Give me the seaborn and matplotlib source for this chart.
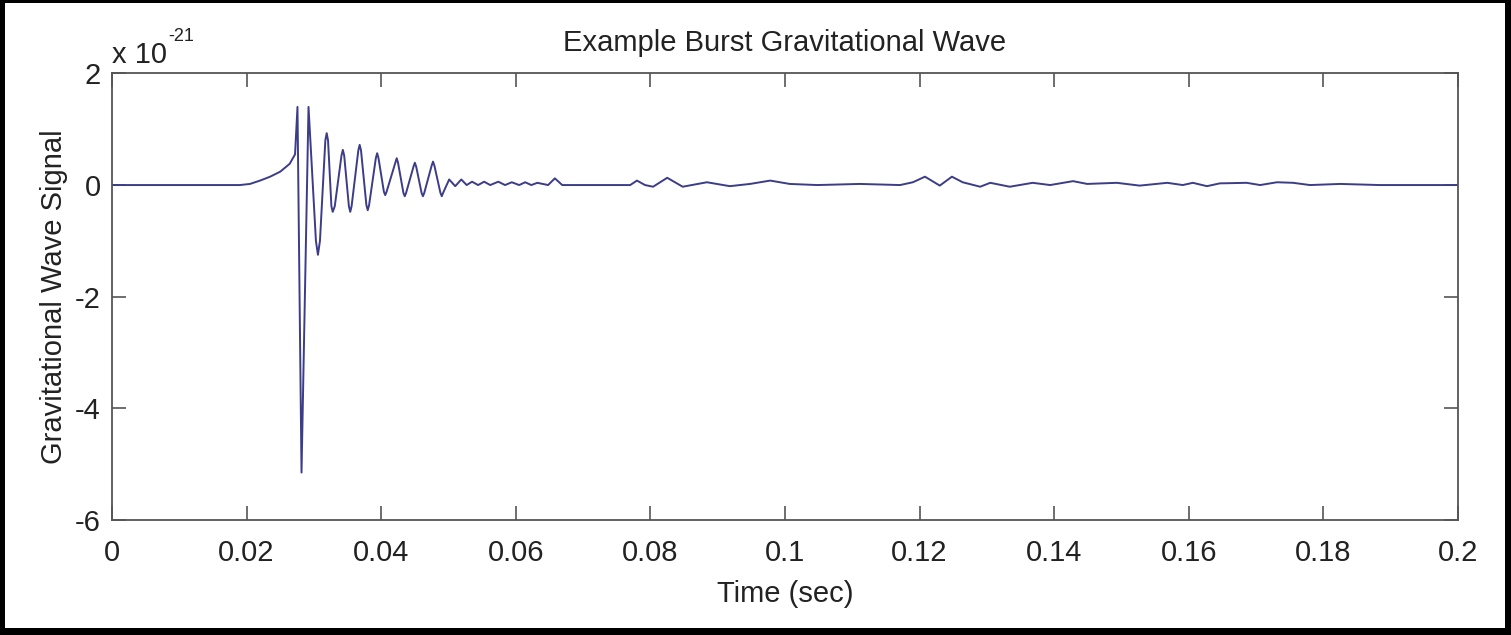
import numpy as np
import pandas as pd
import matplotlib
matplotlib.use("Agg")
import matplotlib.pyplot as plt
from matplotlib.patches import Rectangle
from matplotlib.ticker import FuncFormatter, FixedLocator
import seaborn as sns

# ---- data (time in s, strain in units of 1e-21) ----
time_s = [0.0, 0.0190, 0.0205, 0.0220, 0.0235, 0.0250, 0.0264, 0.0272, 0.02756,
          0.02816, 0.0292, 0.0303, 0.0306, 0.0309, 0.0317, 0.0319, 0.0321,
          0.0326, 0.0328, 0.0331, 0.0341, 0.0343, 0.0345, 0.0352, 0.0354, 0.0356,
          0.0366, 0.0368, 0.0370, 0.0378, 0.0380, 0.0382, 0.0392, 0.0394, 0.0396,
          0.0404, 0.0406, 0.0408, 0.0421, 0.0423, 0.0425, 0.0433, 0.0435, 0.0437,
          0.0448, 0.0450, 0.0452, 0.0460, 0.0462, 0.0464, 0.0475, 0.0477, 0.0479,
          0.0488, 0.0490, 0.0492, 0.0501,
          0.0510, 0.0519, 0.0527, 0.0535, 0.0544, 0.0553, 0.0562, 0.0574, 0.0584,
          0.0594, 0.0605, 0.0614, 0.0623, 0.0632, 0.0648, 0.0658, 0.0669, 0.0725,
          0.0770, 0.0780, 0.0792, 0.0804, 0.0825, 0.0848, 0.0884, 0.0918, 0.0948,
          0.0978, 0.1007, 0.1048, 0.1111, 0.1171, 0.1190, 0.1208, 0.1230, 0.1248,
          0.1264, 0.1290, 0.1305, 0.1334, 0.1368, 0.1394, 0.1428, 0.1449, 0.1493,
          0.1527, 0.1568, 0.1591, 0.1606, 0.1627, 0.1646, 0.1686, 0.1706, 0.1731,
          0.1755, 0.1780, 0.1825, 0.1884, 0.1929, 0.2000]
signal_e21 = [0.0, 0.0, 0.02, 0.08, 0.15, 0.24, 0.38, 0.55, 1.40,
              -5.15, 1.40, -1.00, -1.25, -1.00, 0.80, 0.93, 0.80,
              -0.38, -0.48, -0.38, 0.53, 0.63, 0.53, -0.38, -0.48, -0.38,
              0.62, 0.72, 0.62, -0.36, -0.45, -0.36, 0.48, 0.57, 0.48,
              -0.12, -0.18, -0.12, 0.40, 0.48, 0.40, -0.14, -0.20, -0.14,
              0.33, 0.40, 0.33, -0.14, -0.20, -0.14, 0.35, 0.42, 0.35,
              -0.14, -0.20, -0.14, 0.10,
              -0.02, 0.10, 0.00, 0.06, 0.00, 0.06, 0.00, 0.06, 0.00,
              0.05, 0.00, 0.05, 0.00, 0.04, 0.00, 0.12, 0.00, 0.00,
              0.00, 0.08, 0.00, -0.03, 0.13, -0.03, 0.05, -0.02, 0.02,
              0.08, 0.02, 0.00, 0.02, 0.00, 0.05, 0.15, -0.01, 0.15,
              0.05, -0.03, 0.04, -0.03, 0.04, 0.00, 0.07, 0.02, 0.04,
              -0.01, 0.04, 0.00, 0.04, -0.02, 0.03, 0.04, 0.00, 0.05,
              0.04, 0.00, 0.02, 0.00, 0.00, 0.00]
x_ticks = [0, 0.02, 0.04, 0.06, 0.08, 0.1, 0.12, 0.14, 0.16, 0.18, 0.2]
y_ticks = [-6, -4, -2, 0, 2]
scale_exp = -21
title = "Example Burst Gravitational Wave"
x_label = "Time (sec)"
y_label = "Gravitational Wave Signal"

df = pd.DataFrame({"t": time_s, "h": np.array(signal_e21) * 10.0 ** scale_exp})

sns.set_style("white")
plt.rcParams["font.family"] = ["Liberation Sans", "DejaVu Sans"]
plt.rcParams["axes.unicode_minus"] = False

W, H = 1511, 635
fig = plt.figure(figsize=(W / 100, H / 100), dpi=100)
fig.patch.set_facecolor("black")
fig.patches.append(Rectangle((5 / W, 7 / H), 1500 / W, 625 / H,
                             transform=fig.transFigure, facecolor="white",
                             edgecolor="none", zorder=-10))

ax = fig.add_axes([112 / W, 115 / H, 1346 / W, 446.6 / H])
ax.set_facecolor("white")
sns.lineplot(data=df, x="t", y="h", ax=ax, color="#3c3c88", linewidth=1.4,
             sort=False, estimator=None)

ax.set_xlim(0, 0.2)
ax.set_ylim(-6 * 10.0 ** scale_exp, 2 * 10.0 ** scale_exp)
ax.xaxis.set_major_locator(FixedLocator(x_ticks))
ax.yaxis.set_major_locator(FixedLocator([v * 10.0 ** scale_exp for v in y_ticks]))
ax.xaxis.set_major_formatter(FuncFormatter(lambda v, p: "%g" % round(v, 4)))
ax.yaxis.set_major_formatter(
    FuncFormatter(lambda v, p: "%g" % round(v / 10.0 ** scale_exp, 3)))

for s in ax.spines.values():
    s.set_color("#555555")
    s.set_linewidth(1.3)
ax.tick_params(axis="both", direction="in", top=True, right=True, bottom=True,
               left=True, length=10, width=1.2, color="#555555", labelsize=21,
               labelcolor="#222222")
ax.tick_params(axis="x", pad=14)
ax.tick_params(axis="y", pad=8)

ax.set_title(title, fontsize=21, color="#222222", pad=16)
ax.set_xlabel(x_label, fontsize=21, color="#222222", labelpad=9)
ax.set_ylabel(y_label, fontsize=21, color="#222222", labelpad=5)

# axis multiplier text (MATLAB style)
fig.text(112 / W, 1 - 63 / H, "x 10", fontsize=21, color="#222222",
         ha="left", va="baseline")
fig.text(168 / W, 1 - 41 / H, "%d" % scale_exp, fontsize=13, color="#222222",
         ha="left", va="baseline")

fig.savefig("out.png", dpi=100, facecolor=fig.get_facecolor())
